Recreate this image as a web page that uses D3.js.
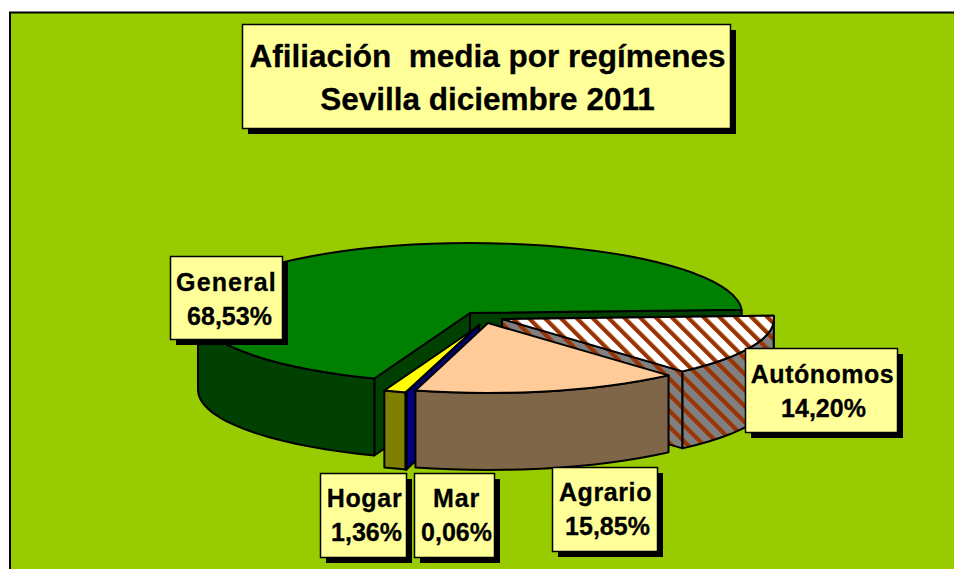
<!DOCTYPE html>
<html><head><meta charset="utf-8">
<script src="https://cdn.jsdelivr.net/npm/d3@7/dist/d3.min.js"></script>
<style>html,body{margin:0;padding:0;background:#fff}svg{display:block}text{font-family:"Liberation Sans",Arial,sans-serif;font-weight:bold;fill:#000;stroke:#000;stroke-width:.3px}</style>
</head><body><svg id="c" width="954" height="569"></svg>
<script>
const categories = ["General","Hogar","Mar","Agrario","Autónomos"];
const values = [68.53,1.36,0.06,15.85,14.20];
const valueLabels = ["68,53%","1,36%","0,06%","15,85%","14,20%"];
const titleLines = ["Afiliación  media por regímenes","Sevilla diciembre 2011"];
const topColors = ["#008000","#ffff00","#000080","#ffcc99","url(#hatchTop)"];
const sideColors = ["#004000","#808000","#000080","#806648","url(#hatchSide)"];
const explodeX = [0,10,9,18,32];
const explodeY = [0,12,12,10,6];
const boxes = [[170,256,112,83],[320,473,86,84],[414,473,80,84],[552,467,105,84],[745,348,152,84]];
const nameX = [226.5,364.5,456.5,605.5,822.5];
const pctX = [229.5,366.5,456.5,607.5,823.5];
const nameY = [291,507,507,501,383];
const pctY = [325,541,541,535,417];
const nameSpacing = [1.1,0.7,0.9,0.6,0.5];

const svg = d3.select("#c");
const defs = svg.append("defs");
[["hatchTop","#ffffff"],["hatchSide","#808080"]].forEach(([id,bg])=>{
  const p = defs.append("pattern").attr("id",id).attr("patternUnits","userSpaceOnUse")
    .attr("width",11.3).attr("height",11.3).attr("patternTransform","rotate(-45)");
  p.append("rect").attr("width",11.3).attr("height",11.3).attr("fill",bg);
  p.append("rect").attr("width",4.2).attr("height",11.3).attr("fill","#993300");
});

svg.append("rect").attr("x",10).attr("y",12.5).attr("width",960).attr("height",570)
  .attr("fill","#99cc00").attr("stroke","#000").attr("stroke-width",2);

const rot = 2.7*Math.PI/180;
const arcs = d3.pie().value(d=>d).sort(null).startAngle(rot).endAngle(rot+2*Math.PI)(values);
const sx = d3.scaleLinear().domain([-1,1]).range([-272,272]);
const sy = d3.scaleLinear().domain([-1,1]).range([70,-70]);
const cx0 = 470, cy0 = 313, depth = 77;

function pt(i,a,dz){ return [cx0+explodeX[i]+sx(Math.cos(a)), cy0+explodeY[i]+sy(Math.sin(a))+(dz||0)]; }
function center(i,dz){ return [cx0+explodeX[i], cy0+explodeY[i]+(dz||0)]; }
function rim(i,a0,a1,dz){
  const n = Math.max(2,Math.ceil(Math.abs(a1-a0)/(4*Math.PI/180)));
  return d3.range(n+1).map(k=>pt(i,a0+(a1-a0)*k/n,dz));
}
const line = d3.line();
const pieG = svg.append("g").attr("stroke","#000").attr("stroke-width",2).attr("stroke-linejoin","round");
function poly(pts,fill){ pieG.append("path").attr("d",line(pts)+"Z").attr("fill",fill); }
function radialWall(i,a,fill){ poly([center(i),pt(i,a),pt(i,a,depth),center(i,depth)],fill); }
function frontWall(i,a0,a1,fill){
  const lo=Math.max(a0,Math.PI), hi=Math.min(a1,2*Math.PI);
  if(hi>lo) poly(rim(i,lo,hi).concat(rim(i,hi,lo,depth)),fill);
}
function topFace(i,a0,a1,fill){ poly([center(i)].concat(rim(i,a0,a1)),fill); }

const order = [0,1,2,4,3];
order.forEach(i=>{
  const a0=arcs[i].startAngle, a1=arcs[i].endAngle;
  if(i===0) radialWall(i,a0,sideColors[i]);
  if(i===4) { radialWall(i,a1,sideColors[i]); radialWall(i,a0,sideColors[i]); }
  if(i===2) radialWall(i,a1,sideColors[i]);
  if(i===0) radialWall(i,a1,sideColors[i]);
  if(i===4) poly(rim(i,a0,a1).concat(rim(i,a1,a0,depth)),sideColors[i]);
  else frontWall(i,a0,a1,sideColors[i]);
  topFace(i,a0,a1,topColors[i]);
});

function box(b){
  svg.append("rect").attr("x",b[0]+6).attr("y",b[1]+6).attr("width",b[2]).attr("height",b[3]).attr("fill","#000");
  svg.append("rect").attr("x",b[0]+.5).attr("y",b[1]+.5).attr("width",b[2]).attr("height",b[3])
    .attr("fill","#ffff99").attr("stroke","#000").attr("stroke-width",1.5);
}
box([242,24,488,104]);
titleLines.forEach((t,i)=>svg.append("text").attr("x",487.5).attr("y",[67,110][i]).attr("text-anchor","middle")
  .attr("font-size",31.5).attr("xml:space","preserve").style("white-space","pre").text(t));

categories.forEach((c,i)=>{
  box(boxes[i]);
  svg.append("text").attr("x",nameX[i]).attr("y",nameY[i]).attr("text-anchor","middle")
    .attr("font-size",25).attr("letter-spacing",nameSpacing[i]).text(c);
  svg.append("text").attr("x",pctX[i]).attr("y",pctY[i]).attr("text-anchor","middle")
    .attr("font-size",25).text(valueLabels[i]);
});
</script></body></html>
